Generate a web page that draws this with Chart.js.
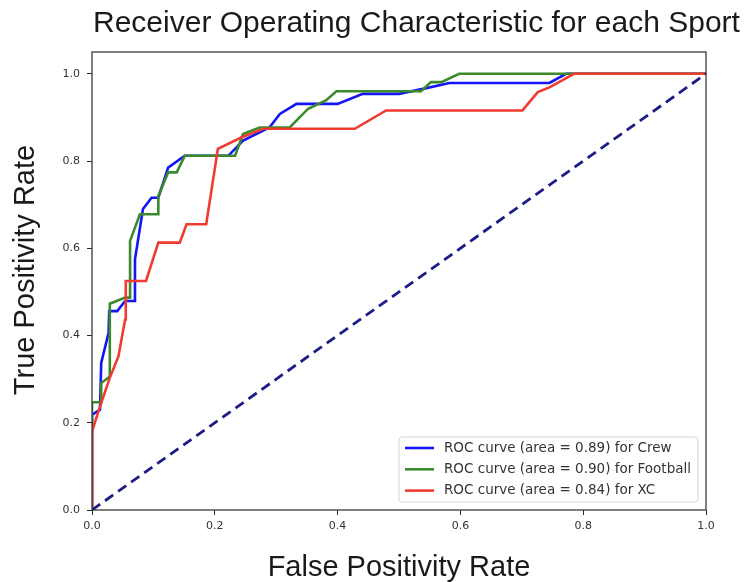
<!DOCTYPE html>
<html><head><meta charset="utf-8">
<script src="https://cdn.jsdelivr.net/npm/chart.js@4.4.1/dist/chart.umd.min.js"></script>
<style>html,body{margin:0;padding:0;background:#fff;} canvas{display:block;}</style>
</head><body>
<canvas id="c" width="750" height="582"></canvas>
<script>
const chartTitle = 'Receiver Operating Characteristic for each Sport';
const xAxisTitle = 'False Positivity Rate';
const yAxisTitle = 'True Positivity Rate';
const xTicks = [0, 0.2, 0.4, 0.6, 0.8, 1.0];
const yTicks = [0, 0.2, 0.4, 0.6, 0.8, 1.0];
const seriesNames = [
  'ROC curve (area = 0.89) for Crew',
  'ROC curve (area = 0.90) for Football',
  'ROC curve (area = 0.84) for XC'
];
const seriesColors = ['#1414f5', '#3a8a2c', '#ef3b30'];

const crewFpr = [0, 0, 0.013, 0.015, 0.027, 0.028, 0.041, 0.054, 0.069, 0.070, 0.083, 0.097, 0.108, 0.124, 0.151, 0.222, 0.246, 0.289, 0.306, 0.333, 0.400, 0.441, 0.500, 0.541, 0.582, 0.745, 0.772, 1.0];
const crewTpr = [0, 0.218, 0.230, 0.337, 0.406, 0.456, 0.456, 0.479, 0.479, 0.575, 0.690, 0.716, 0.716, 0.785, 0.812, 0.812, 0.847, 0.877, 0.908, 0.931, 0.931, 0.954, 0.954, 0.966, 0.979, 0.979, 1.0, 1.0];

const footballFpr = [0, 0, 0.015, 0.015, 0.029, 0.029, 0.054, 0.062, 0.062, 0.078, 0.108, 0.108, 0.124, 0.138, 0.151, 0.233, 0.246, 0.273, 0.322, 0.352, 0.381, 0.398, 0.536, 0.552, 0.569, 0.598, 1.0];
const footballTpr = [0, 0.247, 0.247, 0.291, 0.306, 0.473, 0.487, 0.487, 0.617, 0.678, 0.678, 0.720, 0.774, 0.774, 0.812, 0.812, 0.862, 0.877, 0.877, 0.920, 0.939, 0.960, 0.960, 0.981, 0.981, 1.0, 1.0];

const xcFpr = [0, 0, 0.013, 0.029, 0.043, 0.054, 0.055, 0.088, 0.108, 0.143, 0.154, 0.186, 0.205, 0.243, 0.279, 0.428, 0.479, 0.701, 0.726, 0.745, 0.785, 1.0];
const xcTpr = [0, 0.180, 0.237, 0.303, 0.352, 0.437, 0.525, 0.525, 0.613, 0.613, 0.655, 0.655, 0.828, 0.854, 0.874, 0.874, 0.916, 0.916, 0.958, 0.969, 1.0, 1.0];

const chanceFpr = [0, 1];
const chanceTpr = [0, 1];

const pts = (xs, ys) => xs.map((x, i) => ({ x: x, y: ys[i] }));

const frameAndText = {
  id: 'frameAndText',
  afterDraw(chart) {
    const ctx = chart.ctx;
    const a = chart.chartArea;
    ctx.save();
    // frame
    ctx.strokeStyle = '#2a2a2a';
    ctx.lineWidth = 1.2;
    ctx.strokeRect(a.left, a.top, a.right - a.left, a.bottom - a.top);
    // main title
    ctx.fillStyle = '#1a1a1a';
    ctx.font = '30px "Liberation Sans", Arial, sans-serif';
    ctx.textAlign = 'left';
    ctx.textBaseline = 'alphabetic';
    ctx.fillText(chartTitle, 93, 32);
    // y axis title
    ctx.save();
    ctx.translate(26, 270);
    ctx.rotate(-Math.PI / 2);
    ctx.textAlign = 'center';
    ctx.textBaseline = 'middle';
    ctx.font = '29px "Liberation Sans", Arial, sans-serif';
    ctx.fillText(yAxisTitle, 0, 0);
    ctx.restore();
    // legend
    ctx.font = '13.5px "DejaVu Sans", sans-serif';
    let maxW = 0;
    seriesNames.forEach(s => { maxW = Math.max(maxW, ctx.measureText(s).width); });
    const boxW = 6 + 29 + 10 + maxW + 7;
    const boxH = 65;
    const bx = a.right - 8 - boxW;
    const by = a.bottom - 8 - boxH;
    ctx.fillStyle = 'rgba(255,255,255,0.85)';
    ctx.strokeStyle = '#d6d6d6';
    ctx.lineWidth = 1;
    ctx.beginPath();
    if (ctx.roundRect) ctx.roundRect(bx, by, boxW, boxH, 3); else ctx.rect(bx, by, boxW, boxH);
    ctx.fill();
    ctx.stroke();
    seriesNames.forEach((s, i) => {
      const ly = by + 11 + i * 21.3;
      ctx.strokeStyle = seriesColors[i];
      ctx.lineWidth = 2.6;
      ctx.beginPath();
      ctx.moveTo(bx + 6, ly);
      ctx.lineTo(bx + 35, ly);
      ctx.stroke();
      ctx.fillStyle = '#333';
      ctx.textAlign = 'left';
      ctx.textBaseline = 'middle';
      ctx.fillText(s, bx + 45, ly);
    });
    ctx.restore();
  }
};

const lineDs = (label, data, color, extra) => Object.assign({
  label: label, data: data, borderColor: color, backgroundColor: color,
  borderWidth: 2.6, pointRadius: 0, pointHoverRadius: 0, showLine: true, tension: 0, fill: false
}, extra || {});

new Chart(document.getElementById('c'), {
  type: 'scatter',
  data: {
    datasets: [
      lineDs('chance', pts(chanceFpr, chanceTpr), '#1c1c86', { borderDash: [10, 6], borderWidth: 2.8 }),
      lineDs(seriesNames[2], pts(xcFpr, xcTpr), seriesColors[2]),
      lineDs(seriesNames[1], pts(footballFpr, footballTpr), seriesColors[1]),
      lineDs(seriesNames[0], pts(crewFpr, crewTpr), seriesColors[0])
    ]
  },
  options: {
    responsive: false,
    animation: false,
    devicePixelRatio: 1,
    layout: { padding: { top: 52, right: 44, left: 0, bottom: 0 } },
    plugins: { legend: { display: false }, title: { display: false }, tooltip: { enabled: false } },
    scales: {
      x: {
        type: 'linear', min: 0, max: 1,
        afterFit: s => { s.height = 72; },
        afterBuildTicks: s => { s.ticks = xTicks.map(v => ({ value: v })); },
        grid: { drawOnChartArea: false, drawTicks: true, tickLength: 5, tickColor: '#2a2a2a', tickWidth: 1 },
        border: { display: false },
        ticks: { color: '#333', padding: 5, maxRotation: 0, font: { family: 'DejaVu Sans', size: 11 }, callback: v => Number(v).toFixed(1) },
        title: { display: true, text: xAxisTitle, color: '#1a1a1a', font: { family: 'Liberation Sans', size: 29, lineHeight: 1.0 }, padding: { top: 0, bottom: 0 } }
      },
      y: {
        type: 'linear', min: 0, max: 1.05,
        afterFit: s => { s.width = 92; },
        afterBuildTicks: s => { s.ticks = yTicks.map(v => ({ value: v })); },
        grid: { drawOnChartArea: false, drawTicks: true, tickLength: 5, tickColor: '#2a2a2a', tickWidth: 1 },
        border: { display: false },
        ticks: { color: '#333', padding: 7, font: { family: 'DejaVu Sans', size: 11 }, callback: v => Number(v).toFixed(1) }
      }
    }
  },
  plugins: [frameAndText]
});
</script>
</body></html>
